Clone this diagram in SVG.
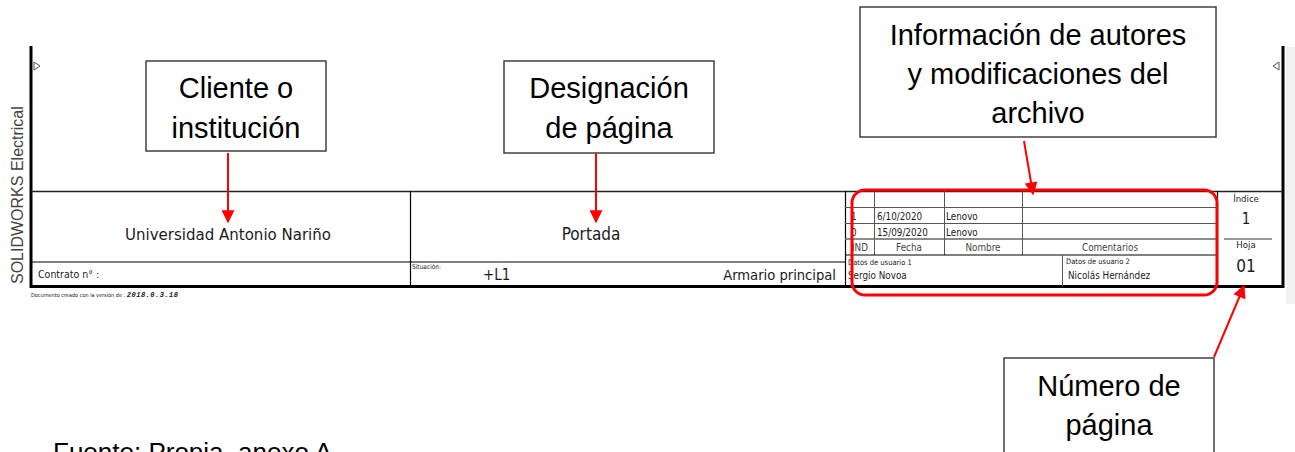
<svg xmlns="http://www.w3.org/2000/svg" width="1295" height="452" viewBox="0 0 1295 452">
<style>
.lbl{font-family:"Liberation Sans",Arial,sans-serif;font-size:29px;fill:#000;text-anchor:middle}
.box{fill:#fff;stroke:#404040;stroke-width:1.5}
.tb{font-family:"DejaVu Sans Condensed","DejaVu Sans",sans-serif;fill:#1a1a1a}
.ln{stroke:#000;stroke-width:1.2;fill:none}
.gl{stroke:#555;stroke-width:1;fill:none}
.arr{stroke:#ff0000;stroke-width:2;fill:none;marker-end:url(#ah)}
</style>
<defs>
<marker id="ah" viewBox="0 0 10 10" refX="9" refY="5" markerWidth="14" markerHeight="13" markerUnits="userSpaceOnUse" orient="auto"><path d="M0,0 L10,5 L0,10 z" fill="#ff0000"/></marker>
</defs>
<rect width="1295" height="452" fill="#fff"/>
<rect x="1286" y="47" width="9" height="257" fill="#f0f0f0"/>
<g id="titleblock">
<line x1="31" y1="46" x2="31" y2="288" stroke="#000" stroke-width="3"/>
<line x1="1283" y1="46" x2="1283" y2="288" stroke="#000" stroke-width="3"/>
<line x1="30" y1="286.5" x2="1284" y2="286.5" stroke="#000" stroke-width="3"/>
<line x1="31" y1="191.5" x2="1283" y2="191.5" stroke="#222" stroke-width="1.6"/>
<path d="M34,62 L40,66 L34,70 Z" class="gl"/>
<path d="M1279,62 L1273,66 L1279,70 Z" class="gl"/>
<line x1="31" y1="262" x2="845" y2="262" class="ln"/>
<line x1="410.5" y1="191" x2="410.5" y2="286" class="ln"/>
<line x1="845.5" y1="191" x2="845.5" y2="286" class="ln"/>
<line x1="874.5" y1="191" x2="874.5" y2="255" class="gl"/>
<line x1="944.5" y1="191" x2="944.5" y2="255" class="gl"/>
<line x1="1022.5" y1="191" x2="1022.5" y2="255" class="gl"/>
<line x1="845" y1="207.5" x2="1217" y2="207.5" class="gl"/>
<line x1="845" y1="223.5" x2="1217" y2="223.5" class="gl"/>
<line x1="845" y1="239" x2="1217" y2="239" stroke="#666" stroke-width="1.6"/>
<line x1="845" y1="255" x2="1217" y2="255" class="ln"/>
<line x1="1062.5" y1="255" x2="1062.5" y2="286" class="gl"/>
<line x1="1217.5" y1="191" x2="1217.5" y2="286" class="ln"/>
<line x1="1224" y1="239" x2="1272" y2="239" stroke="#777" stroke-width="1.4"/>
<text x="23" y="284" transform="rotate(-90 23 284)" font-family="Liberation Sans,Arial,sans-serif" font-size="16" fill="#444">SOLIDWORKS Electrical</text>
<text class="tb" x="228" y="240" font-size="16.7" text-anchor="middle">Universidad Antonio Nariño</text>
<text class="tb" x="591" y="240" font-size="17" text-anchor="middle">Portada</text>
<text class="tb" x="38" y="278" font-size="10.5">Contrato n° :</text>
<text class="tb" x="412" y="269" font-size="6.5">Situación:</text>
<text class="tb" x="483" y="280" font-size="15">+L1</text>
<text class="tb" x="836" y="280" font-size="14.6" text-anchor="end">Armario principal</text>
<text class="tb" x="31" y="297" font-size="5.5">Documento creado con la versión de : <tspan font-family="Liberation Mono,monospace" font-style="italic" font-weight="bold" font-size="7" letter-spacing="0.5">2018.0.3.18</tspan></text>
<g class="tb" font-size="9.8">
<text x="851" y="220">1</text>
<text x="877" y="220">6/10/2020</text>
<text x="946" y="220">Lenovo</text>
<text x="851" y="236">0</text>
<text x="877" y="236">15/09/2020</text>
<text x="946" y="236">Lenovo</text>
<text x="860" y="251" text-anchor="middle" fill="#444">IND</text>
<text x="909" y="251" text-anchor="middle" fill="#444">Fecha</text>
<text x="983" y="251" text-anchor="middle" fill="#444">Nombre</text>
<text x="1110" y="251" text-anchor="middle" fill="#444">Comentarios</text>
<text x="848" y="279">Sergio Novoa</text>
<text x="1068" y="279">Nicolás Hernández</text>
</g>
<text class="tb" x="848" y="265" font-size="7.5">Datos de usuario 1</text>
<text class="tb" x="1066" y="264" font-size="7.5">Datos de usuario 2</text>
<text class="tb" x="1246" y="202" font-size="9.5" text-anchor="middle" fill="#444">Índice</text>
<text class="tb" x="1246" y="224" font-size="15" text-anchor="middle">1</text>
<text class="tb" x="1246" y="248" font-size="9.5" text-anchor="middle" fill="#444">Hoja</text>
<text class="tb" x="1246" y="272" font-size="17" text-anchor="middle">01</text>
</g>
<rect x="852" y="190" width="365" height="105" rx="13" fill="none" stroke="#ff0000" stroke-width="3"/>
<g id="node-cliente">
<rect class="box" x="146" y="61" width="180" height="90"/>
<text class="lbl" x="236" y="98">Cliente o</text>
<text class="lbl" x="236" y="138">institución</text>
</g>
<g id="node-designacion">
<rect class="box" x="504" y="61" width="210" height="92"/>
<text class="lbl" x="609" y="98">Designación</text>
<text class="lbl" x="609" y="138">de página</text>
</g>
<g id="node-autores">
<rect class="box" x="860" y="7" width="356" height="130"/>
<text class="lbl" x="1038" y="45">Información de autores</text>
<text class="lbl" x="1038" y="84">y modificaciones del</text>
<text class="lbl" x="1038" y="123">archivo</text>
</g>
<g id="node-numero">
<rect class="box" x="1004" y="358" width="210" height="110"/>
<text class="lbl" x="1109" y="396">Número de</text>
<text class="lbl" x="1109" y="435">página</text>
</g>
<g id="connectors">
<line class="arr" x1="228" y1="153" x2="228" y2="222"/>
<line class="arr" x1="596" y1="153" x2="596" y2="222"/>
<line class="arr" x1="1024" y1="141" x2="1033" y2="194"/>
<line class="arr" x1="1214" y1="357" x2="1244" y2="286"/>
</g>
<text x="53" y="461" font-family="Liberation Sans,Arial,sans-serif" font-size="26" fill="#000">Fuente: Propia, anexo A</text>
</svg>
